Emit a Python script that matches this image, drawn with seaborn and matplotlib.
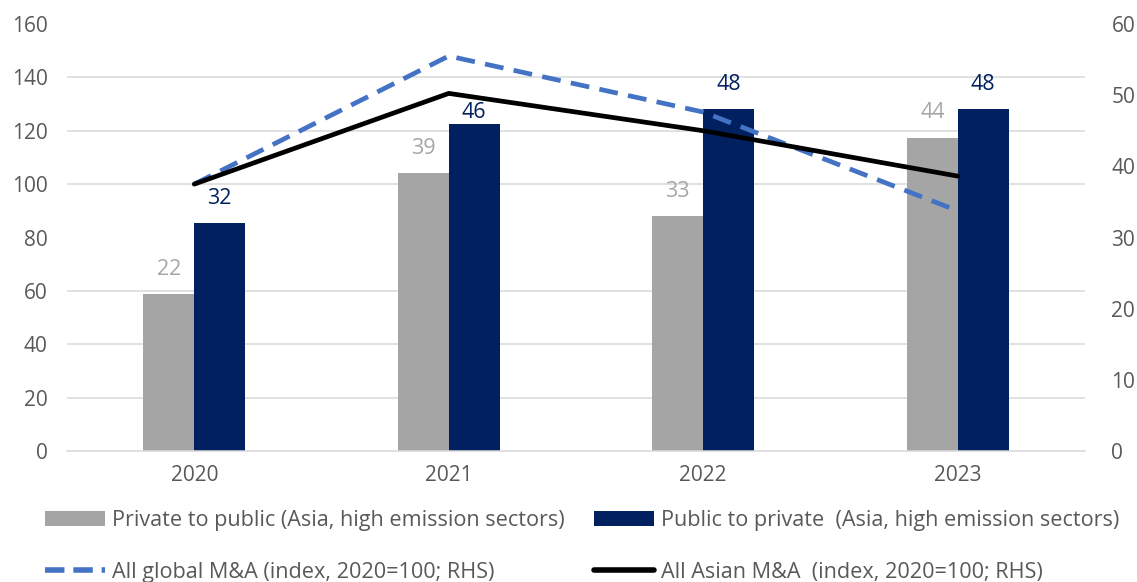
import numpy as np
import pandas as pd
import matplotlib
matplotlib.use("Agg")
import matplotlib.pyplot as plt
import seaborn as sns
from matplotlib.patches import Patch
from matplotlib.lines import Line2D

years = ["2020", "2021", "2022", "2023"]
private_to_public = [22, 39, 33, 44]
public_to_private = [32, 46, 48, 48]
global_ma_index = [100, 148, 127, 90]
asian_ma_index = [100, 134, 120, 103]

bar_series = ["Private to public (Asia, high emission sectors)",
              "Public to private  (Asia, high emission sectors)"]
line_series = ["All global M&A (index, 2020=100; RHS)",
               "All Asian M&A  (index, 2020=100; RHS)"]

GRAY = "#A5A5A5"
NAVY = "#002060"
BLUE = "#4472C4"
TXT = "#595959"
GRID = "#D9D9D9"
FS = 15

sns.set_theme(style="white")
plt.rcParams["font.family"] = ["Open Sans", "DejaVu Sans"]

bars_df = pd.DataFrame({
    "year": years * 2,
    "value": private_to_public + public_to_private,
    "series": [bar_series[0]] * 4 + [bar_series[1]] * 4,
})
lines_df = pd.DataFrame({
    "pos": list(range(4)) * 2,
    "value": global_ma_index + asian_ma_index,
    "series": [line_series[0]] * 4 + [line_series[1]] * 4,
})

fig = plt.figure(figsize=(11.37, 5.82), dpi=100)
ax = fig.add_axes([67 / 1137, 1 - 451 / 582, (1085 - 67) / 1137, (451 - 24) / 582])
ax2 = ax.twinx()

sns.barplot(data=bars_df, x="year", y="value", hue="series", order=years,
            hue_order=bar_series, palette=[GRAY, NAVY], width=0.4,
            saturation=1, ax=ax, legend=False)
for p in ax.patches:
    p.set_linewidth(0)

ax.set_xlim(-0.5, 3.5)
ax.set_ylim(0, 60)
ax.set_yticks(np.arange(0, 61, 10))
ax.set_yticks(np.linspace(0, 60, 9), minor=True)
ax.grid(False)
ax.grid(True, which="minor", axis="y", color=GRID, linewidth=1.1)
ax.set_axisbelow(True)
ax.set_xlabel("")
ax.set_ylabel("")
for s in ["top", "left", "right"]:
    ax.spines[s].set_visible(False)
ax.spines["bottom"].set_color(GRID)
ax.spines["bottom"].set_linewidth(1.1)

# bar value labels
for container, color in zip(ax.containers, ["#A6A6A6", NAVY]):
    for i, rect in enumerate(container):
        val = rect.get_height()
        off = 18
        if color == NAVY and i == 1:
            off = 8
        ax.annotate(f"{val:.0f}", (rect.get_x() + rect.get_width() / 2, val),
                    xytext=(0, off), textcoords="offset points",
                    ha="center", va="center", fontsize=FS + 0.5, color=color)

# lines on top, left axis
sns.lineplot(data=lines_df, x="pos", y="value", hue="series", style="series",
             hue_order=line_series, style_order=line_series,
             palette=[BLUE, "black"], dashes=[(4, 2.2), ""], linewidth=3.4,
             ax=ax2, legend=False)
for ln in ax2.lines:
    ln.set_solid_capstyle("round")
ax2.set_ylim(0, 160)
ax2.set_xlim(-0.5, 3.5)
ax2.set_yticks(np.arange(0, 161, 20))
ax2.set_ylabel("")
ax2.set_xlabel("")
ax2.grid(False)
for s in ax2.spines.values():
    s.set_visible(False)

# axis sides: bars scale on the right, index scale on the left
ax.yaxis.tick_right()
ax.yaxis.set_label_position("right")
ax2.yaxis.tick_left()
ax.tick_params(axis="y", which="major", length=0, labelsize=FS, labelcolor=TXT,
               pad=19, left=False, labelleft=False, right=True, labelright=True)
ax.tick_params(axis="y", which="minor", length=0, left=False, right=False,
               labelleft=False, labelright=False)
ax.tick_params(axis="x", length=0, labelsize=FS, labelcolor=TXT, pad=10)
ax2.tick_params(axis="y", length=0, labelsize=FS, labelcolor=TXT, pad=14,
                right=False, labelright=False, left=True, labelleft=True)
ax2.tick_params(axis="x", bottom=False, labelbottom=False)

handles = [
    Patch(facecolor=GRAY, edgecolor="none"),
    Line2D([0], [0], color=BLUE, lw=4, linestyle=(0, (3.5, 1.6))),
    Patch(facecolor=NAVY, edgecolor="none"),
    Line2D([0], [0], color="black", lw=4, solid_capstyle="round"),
]
labels = [bar_series[0], line_series[0], bar_series[1], line_series[1]]
fig.legend(handles, labels, ncol=2, loc="upper left",
           bbox_to_anchor=(45 / 1137, 1 - 510 / 582), frameon=False,
           fontsize=15.6, labelcolor=TXT, borderpad=0, borderaxespad=0,
           handlelength=2.75, handleheight=0.7, handletextpad=0.35,
           columnspacing=1.35, labelspacing=1.42)

fig.savefig("out.png", dpi=100)
